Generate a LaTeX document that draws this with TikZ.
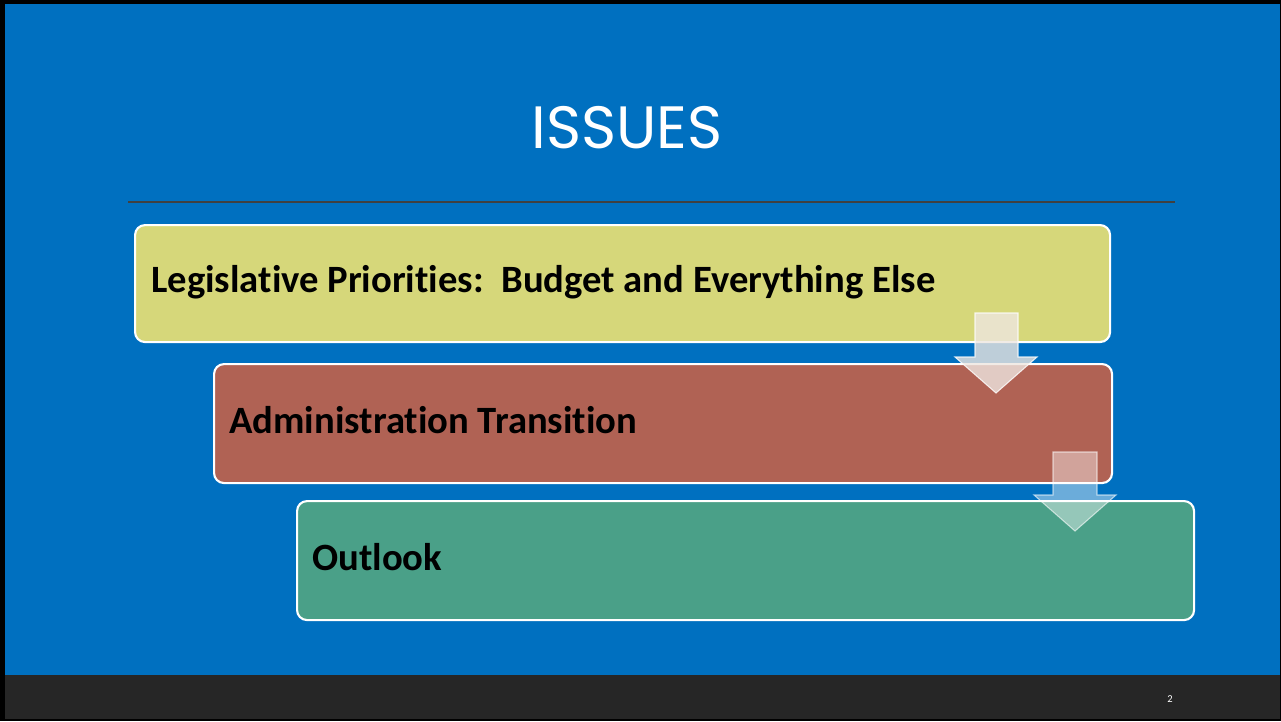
\documentclass[tikz,border=0pt]{standalone}
\usepackage{fontspec}
\setmainfont{Carlito}[Ligatures=NoCommon]
\newfontfamily\titlefont{Poppins}
\definecolor{slideblue}{RGB}{0,112,192}
\definecolor{footer}{RGB}{38,38,38}
\definecolor{rule}{RGB}{64,64,64}
\definecolor{boxA}{RGB}{214,215,122}
\definecolor{boxB}{RGB}{176,98,84}
\definecolor{boxC}{RGB}{74,160,136}
\definecolor{arrowA}{RGB}{238,230,224}
\tikzset{
  stepbox/.style={draw=white, line width=1.2pt, rounded corners=5.7pt, anchor=north west, inner sep=0pt},
  boxtext/.style={anchor=base west, inner sep=0pt, font=\bfseries\fontsize{22}{26}\selectfont, text=black},
  downarrow/.style={draw=white, line width=0.6pt},
}
\begin{document}
\begin{tikzpicture}[x=0.02cm, y=-0.02cm]
\useasboundingbox (0,0) rectangle (1281,721);
\fill[black] (0,0) rectangle (1281,721);
\fill[slideblue] (5,4) rectangle (1280,675);
\fill[footer] (5,675) rectangle (1280,719);
% title
\node[text=white, font=\titlefont\fontsize{34}{38}\selectfont, inner sep=0pt, anchor=base] (title) at (627,148) {ISSUES};
\draw[rule, line width=0.7pt] (128,202) coordinate (r1) -- (1175,202) coordinate (r2);
% boxes
\node[stepbox, fill=boxA, minimum width=975*0.02cm, minimum height=117*0.02cm] (b1) at (134,224) {};
\node[stepbox, fill=boxB, minimum width=898*0.02cm, minimum height=119*0.02cm] (b2) at (213,363) {};
\node[stepbox, fill=boxC, minimum width=897*0.02cm, minimum height=119*0.02cm] (b3) at (296,500) {};
\node[boxtext] (t1) at (151,292) {Legislative Priorities:\ \ Budget and Everything Else};
\node[boxtext] (t2) at (229,433) {Administration Transition};
\node[boxtext] (t3) at (312,570) {Outlook};
% arrows
\path[downarrow, fill=arrowA, fill opacity=0.8, draw opacity=0.8] (975,313) -- (1018,313) -- (1018,357) -- (1037,357) -- (996,393) -- (955,357) -- (975,357) -- cycle;
\path[downarrow, fill=white, fill opacity=0.42, draw opacity=0.6] (1053,452) -- (1097,452) -- (1097,495) -- (1116,495) -- (1075,531) -- (1034,495) -- (1053,495) -- cycle;
% page number
\node[text=white, font=\fontsize{6}{7}\selectfont, inner sep=0pt] (pg) at (1170,699) {2};
\end{tikzpicture}
\end{document}
